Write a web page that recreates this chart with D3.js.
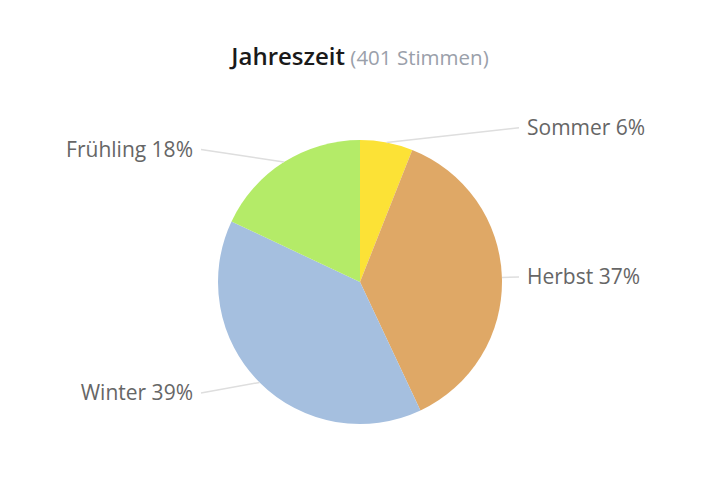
<!DOCTYPE html>
<html>
<head>
<meta charset="utf-8">
<script src="https://cdn.jsdelivr.net/npm/d3@7"></script>
<style>
  body { margin: 0; background: #fff; }
  svg { display: block; font-family: "Open Sans", sans-serif; }
</style>
</head>
<body>
<div id="chart"></div>
<script>
const seasons = ["Sommer", "Herbst", "Winter", "Frühling"];
const shares = [6, 37, 39, 18];
const sliceColors = ["#fce236", "#dfa866", "#a5bfdf", "#b4eb68"];

const width = 720;
const height = 501;
const cx = 360;
const cy = 282;
const radius = 142;
const labelDist = 157;
const labelOffsetX = 167;

const svg = d3.select("#chart")
    .append("svg")
    .attr("width", width)
    .attr("height", height);

// title
const title = svg.append("text")
    .attr("x", width / 2)
    .attr("y", 65)
    .attr("text-anchor", "middle");
title.append("tspan")
    .text("Jahreszeit")
    .attr("font-size", 24)
    .attr("font-weight", 600)
    .attr("fill", "#1a1a1a");
title.append("tspan")
    .text(" (401 Stimmen)")
    .attr("font-size", 20.5)
    .attr("fill", "#9aa0aa");

const data = seasons.map((s, i) => ({ name: s, value: shares[i], color: sliceColors[i] }));

const pie = d3.pie()
    .sort(null)
    .value(d => d.value);

const arc = d3.arc()
    .innerRadius(0)
    .outerRadius(radius);

const arcs = pie(data);

const g = svg.append("g")
    .attr("transform", "translate(" + cx + "," + cy + ")");

g.selectAll("path.slice")
    .data(arcs)
    .join("path")
    .attr("class", "slice")
    .attr("d", arc)
    .attr("fill", d => d.data.color);

// labels + connectors
arcs.forEach(a => {
    const mid = (a.startAngle + a.endAngle) / 2;
    const sx = Math.sin(mid);
    const cyy = -Math.cos(mid);
    const right = sx >= 0;
    const ex = radius * sx;
    const ey = radius * cyy;
    const ly = labelDist * cyy;
    const lx = right ? labelOffsetX : -labelOffsetX;

    g.append("path")
        .attr("d", "M" + ex + "," + ey + " L" + (lx + (right ? -8 : 8)) + "," + ly)
        .attr("fill", "none")
        .attr("stroke", "#dedede")
        .attr("stroke-width", 1.5);

    g.append("text")
        .attr("x", lx)
        .attr("y", ly)
        .attr("dy", "0.35em")
        .attr("text-anchor", right ? "start" : "end")
        .attr("font-size", 21)
        .attr("fill", "#666")
        .text(a.data.name + " " + a.data.value + "%");
});
</script>
</body>
</html>
